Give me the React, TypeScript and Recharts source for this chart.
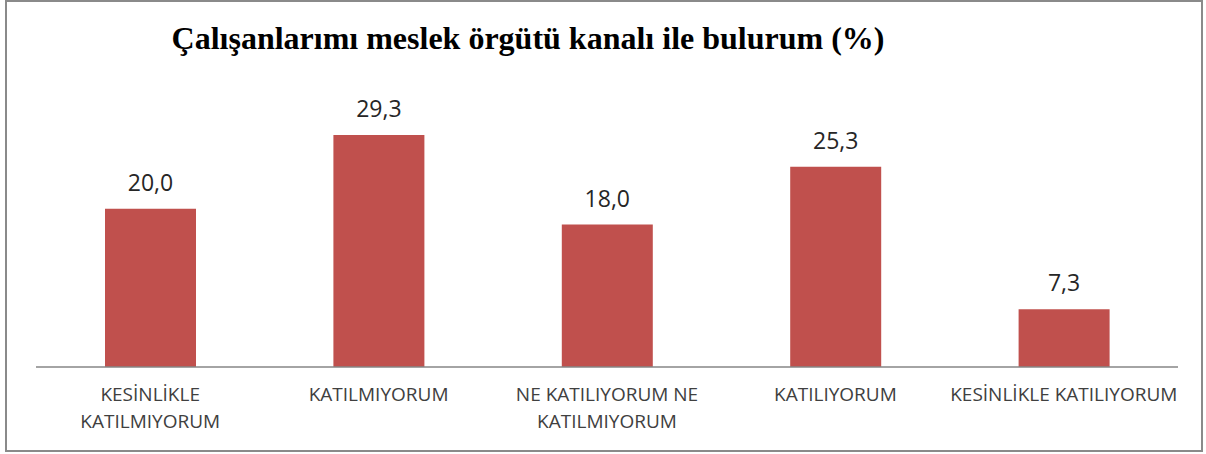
import React from 'react';
import { BarChart, Bar, XAxis, YAxis, LabelList } from 'recharts';

const categories = [
  'KESİNLİKLE KATILMIYORUM',
  'KATILMIYORUM',
  'NE KATILIYORUM NE KATILMIYORUM',
  'KATILIYORUM',
  'KESİNLİKLE KATILIYORUM',
];
const percentages = [20.0, 29.3, 18.0, 25.3, 7.3];

const chartData = categories.map((name, i) => ({ name, value: percentages[i] }));

const wrapLabel = (text: string, max = 22) => {
  const words = text.split(' ');
  const lines: string[] = [];
  let cur = '';
  words.forEach(w => {
    const next = cur ? cur + ' ' + w : w;
    if (next.length > max && cur) {
      lines.push(cur);
      cur = w;
    } else {
      cur = next;
    }
  });
  if (cur) lines.push(cur);
  return lines;
};

const CategoryTick = (props: any) => {
  const { x, y, payload } = props;
  const lines = wrapLabel(payload.value);
  return (
    <g transform={`translate(${x},${y})`}>
      {lines.map((line, i) => (
        <text
          key={i}
          x={0}
          y={26 + i * 27}
          textAnchor="middle"
          fill="#404040"
          fontSize={19}
          fontFamily="'Open Sans', sans-serif"
        >
          {line}
        </text>
      ))}
    </g>
  );
};

const fmt = (v: any) => Number(v).toFixed(1).replace('.', ',');

export default function App() {
  return (
    <div style={{ position: 'absolute', left: 0, top: 0, width: 1206, height: 454, background: '#fff' }}>
      <div
        style={{
          position: 'absolute',
          left: 5,
          top: 0,
          width: 1194,
          height: 448,
          border: '2px solid #8a8a8a',
        }}
      />
      <div
        style={{
          position: 'absolute',
          left: 0,
          width: 1056,
          top: 20,
          lineHeight: '36px',
          textAlign: 'center',
          fontFamily: "'Liberation Serif', 'Times New Roman', serif",
          fontWeight: 'bold',
          fontSize: 32,
          color: '#000',
        }}
      >
        Çalışanlarımı meslek örgütü kanalı ile bulurum (%)
      </div>
      <div style={{ position: 'absolute', left: 0, top: 0 }}>
        <BarChart
          width={1206}
          height={454}
          data={chartData}
          margin={{ top: 90, right: 28, left: 36, bottom: 0 }}
        >
          <XAxis
            dataKey="name"
            height={87}
            interval={0}
            tickLine={false}
            axisLine={{ stroke: '#868686', strokeWidth: 1.5 }}
            tick={<CategoryTick />}
          />
          <YAxis hide domain={[0, 35]} />
          <Bar dataKey="value" fill="#C0504D" barSize={91} isAnimationActive={false}>
            <LabelList
              dataKey="value"
              position="top"
              offset={18}
              formatter={fmt}
              fill="#262626"
              fontSize={23}
              fontFamily="'Open Sans', sans-serif"
            />
          </Bar>
        </BarChart>
      </div>
    </div>
  );
}
